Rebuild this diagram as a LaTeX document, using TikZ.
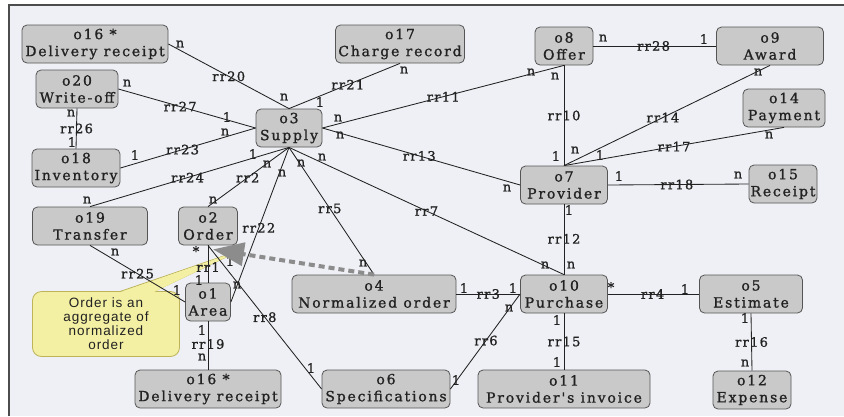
\documentclass[tikz,border=0pt]{standalone}
\usepackage{fontspec}
\newfontfamily\boxfont[LetterSpace=13,FakeBold=1.2]{DejaVu Serif}
\newfontfamily\labfont[LetterSpace=10,FakeBold=1.2]{DejaVu Serif}
\newfontfamily\notefont[LetterSpace=7]{Liberation Sans}
\usetikzlibrary{arrows.meta,calc}
\definecolor{bg}{HTML}{EEF0F5}
\definecolor{boxfill}{HTML}{C9C9C9}
\definecolor{boxline}{HTML}{555555}
\definecolor{notefill}{HTML}{F3EFA3}
\definecolor{noteline}{HTML}{BDB45A}
\definecolor{aggcol}{HTML}{8C8C8C}
\definecolor{ink}{HTML}{222222}
\begin{document}
\begin{tikzpicture}[x=1pt,y=-1pt,
  ent/.style={draw=boxline, line width=0.8pt, fill=boxfill, rounded corners=5pt,
    align=center, inner sep=0pt, minimum height=38pt, text=ink,
    font=\boxfont\fontsize{14}{17}\selectfont},
  rel/.style={draw=ink, line width=0.85pt},
  lab/.style={inner sep=0pt, text=ink, font=\labfont\fontsize{13}{13}\selectfont},
  note/.style={draw=noteline, line width=0.8pt, fill=notefill, rounded corners=9pt,
    align=center, inner sep=0pt, minimum width=147pt, minimum height=65pt, text=ink,
    font=\notefont\fontsize{13.5}{14}\selectfont},
  agg/.style={draw=aggcol, line width=4pt, dash pattern=on 6pt off 4pt,
    -{Triangle[length=31pt,width=23pt,fill=aggcol]}},
]
\useasboundingbox (0,0) rectangle (844,416);
\fill[white] (0,0) rectangle (844,416);
\fill[bg] (9,5) rectangle (844,416);
\draw[line width=1.3pt, draw=black!70] (9,416) -- (9,5) -- (844,5);

% entities
\node[ent, minimum width=146pt] (o16t) at (95,44)  {o16 *\\Delivery receipt};
\node[ent, minimum width=129pt] (o17)  at (400,44) {o17\\Charge record};
\node[ent, minimum width=58pt]  (o8)   at (564,46) {o8\\Offer};
\node[ent, minimum width=107pt] (o9)   at (770,46) {o9\\Award};
\node[ent, minimum width=82pt]  (o20)  at (77,89)  {o20\\Write-off};
\node[ent, minimum width=82pt]  (o14)  at (784,108) {o14\\Payment};
\node[ent, minimum width=66pt]  (o3)   at (289,128) {o3\\Supply};
\node[ent, minimum width=88pt]  (o18)  at (76,168) {o18\\Inventory};
\node[ent, minimum width=87pt]  (o7)   at (564,185) {o7\\Provider};
\node[ent, minimum width=68pt]  (o15)  at (783,184) {o15\\Receipt};
\node[ent, minimum width=115pt] (o19)  at (90,226) {o19\\Transfer};
\node[ent, minimum width=59pt]  (o2)   at (208,226) {o2\\Order};
\node[ent, minimum width=45pt]  (o1)   at (208,302) {o1\\Area};
\node[ent, minimum width=164pt] (o4)   at (374,294) {o4\\Normalized order};
\node[ent, minimum width=87pt]  (o10)  at (564,294) {o10\\Purchase};
\node[ent, minimum width=103pt] (o5)   at (751,294) {o5\\Estimate};
\node[ent, minimum width=146pt] (o16b) at (208,389) {o16 *\\Delivery receipt};
\node[ent, minimum width=128pt] (o6)   at (386,389) {o6\\Specifications};
\node[ent, minimum width=172pt] (o11)  at (564,389) {o11\\Provider's invoice};
\node[ent, minimum width=78pt]  (o12)  at (752,390) {o12\\Expense};

% comment callout
\coordinate (ptip) at ([xshift=32pt,yshift=-5pt]o2.south);
\node[note] (note) at (106,324) {Order is an\\aggregate of\\normalized\\order};
\filldraw[fill=notefill, draw=noteline, line width=0.8pt]
  ($(note.north)+(14,0.4)$) -- (ptip) -- ($(note.north)+(48,0.4)$);
\fill[notefill] ($(note.north)+(14.6,1.2)$) -- (ptip) -- ($(note.north)+(47.4,1.2)$) -- cycle;

% relationships
\draw[rel] (o16t.east) -- node[lab,pos=0.5]{rr20} (o3.north)
  node[lab] at (180,44){n} node[lab] at (284,97){n};
\draw[rel] (o17.south) -- node[lab,pos=0.47]{rr21} (o3.north)
  node[lab] at (404,70){n} node[lab] at (320,102){1};
\draw[rel] (o20.east) -- node[lab,pos=0.45]{rr27} (o3.west)
  node[lab] at (127,83){n} node[lab] at (227,117){1};
\draw[rel] (o18.east) -- node[lab,pos=0.46]{rr23} (o3.west)
  node[lab] at (135,155){1} node[lab] at (225,132){n};
\draw[rel] (o20.south) -- node[lab,pos=0.5]{rr26} (o18.north)
  node[lab] at (71,113){n} node[lab] at (72,142){1};
\draw[rel] (o19.north) -- node[lab,pos=0.49]{rr24} (o3.south)
  node[lab] at (87,200){n} node[lab] at (253,154){1};
\draw[rel] (o2.north) -- node[lab,pos=0.49]{rr2} (o3.south)
  node[lab] at (213,200){n} node[lab] at (267,164){n};
\draw[rel] (o1.east) -- node[lab,pos=0.48]{rr22} (o3.south)
  node[lab] at (237,285){n} node[lab] at (282,173){n};
\draw[rel] (o4.north) -- node[lab,pos=0.52]{rr5} (o3.south)
  node[lab] at (363,263){n} node[lab] at (301,163){n};
\draw[rel] (o10.north) -- node[lab,pos=0.5]{rr7} (o3.south)
  node[lab] at (545,265){n} node[lab] at (322,157){n};
\draw[rel] (o3.east) -- node[lab,pos=0.5]{rr11} (o8.south)
  node[lab] at (338,118){n} node[lab] at (531,72){n};
\draw[rel] (o3.east) -- node[lab,pos=0.49]{rr13} (o7.west)
  node[lab] at (340,135){n} node[lab] at (507,188){n};
\draw[rel] (o8.south) -- node[lab,pos=0.5]{rr10} (o7.north)
  node[lab] at (555,76){n} node[lab] at (556,156){1};
\draw[rel] (o8.east) -- node[lab,pos=0.49]{rr28} (o9.west)
  node[lab] at (603,38){n} node[lab] at (704,39){1};
\draw[rel] (o7.north) -- node[lab,pos=0.48]{rr14} (o9.south)
  node[lab] at (575,150){n} node[lab] at (758,72){n};
\draw[rel] (o7.north) -- node[lab,pos=0.5]{rr17} (o14.south)
  node[lab] at (600,155){1} node[lab] at (769,135){n};
\draw[rel] (o7.east) -- node[lab,pos=0.49]{rr18} (o15.west)
  node[lab] at (619,176){1} node[lab] at (738,175){n};
\draw[rel] (o7.south) -- node[lab,pos=0.49]{rr12} (o10.north)
  node[lab] at (569,210){1} node[lab] at (571,265){n};
\draw[rel] (o4.east) -- node[lab,pos=0.5]{rr3} (o10.west)
  node[lab] at (464,288){1} node[lab] at (513,288){1};
\draw[rel] (o6.east) -- node[lab,pos=0.51]{rr6} (o10.west)
  node[lab] at (456,380){1} node[lab] at (509,308){n};
\draw[rel] (o10.east) -- node[lab,pos=0.49]{rr4} (o5.west)
  node[lab] at (611,287){*} node[lab] at (685,289){1};
\draw[rel] (o10.south) -- node[lab,pos=0.5]{rr15} (o11.north)
  node[lab] at (557,320){1} node[lab] at (557,362){1};
\draw[rel] (o5.south) -- node[lab,pos=0.5]{rr16} (o12.north)
  node[lab] at (745,318){1} node[lab] at (745,363){n};
\draw[rel] (o2.south) -- node[lab,pos=0.58]{rr1} (o1.north)
  node[lab] at (196,251){*} node[lab] at (199,280){1};
\draw[rel] (o2.south) -- node[lab,pos=0.5]{rr8} (o6.west)
  node[lab] at (230,261){1} node[lab] at (311,368){1};
\draw[rel] (o19.south) -- node[lab,pos=0.5]{rr25} (o1.west)
  node[lab] at (115,252){n} node[lab] at (177,290){1};
\draw[rel] (o1.south) -- node[lab,pos=0.47]{rr19} (o16b.north)
  node[lab] at (202,330){1} node[lab] at (202,357){n};

% aggregation arrow
\draw[agg] (o4.north) -- ([xshift=5pt,yshift=-4pt]o2.south);
\end{tikzpicture}
\end{document}
